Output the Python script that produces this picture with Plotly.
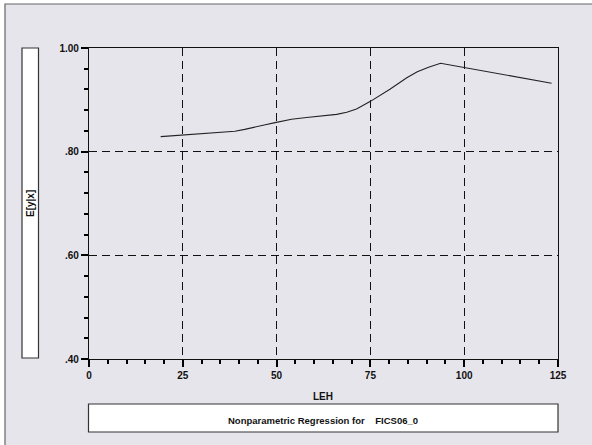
import plotly.graph_objects as go

# Nonparametric regression curve E[y|x] against LEH
leh = [19.1, 24.7, 30.0, 35.4, 38.9, 41.5, 44.2, 47.0, 49.6, 54.0, 58.0, 62.4,
       66.0, 68.7, 71.3, 74.9, 80.2, 84.7, 87.5, 90.5, 93.7, 123.3]
ey = [0.829, 0.832, 0.834, 0.8366, 0.8395, 0.843, 0.848, 0.852, 0.856, 0.8625,
      0.866, 0.8689, 0.872, 0.876, 0.8825, 0.8966, 0.9204, 0.9425, 0.954, 0.963,
      0.9705, 0.932]

y_tickvals = [0.40, 0.60, 0.80, 1.00]
y_ticktext = [".40", ".60", ".80", "1.00"]
x_tickvals = [0, 25, 50, 75, 100, 125]
x_range = [0, 125]
y_range = [0.40, 1.00]

title_text = "Nonparametric Regression for\u00a0\u00a0\u00a0\u00a0FICS06_0"

W, H = 592, 445
L, R, T, B = 89, 558, 48, 359
BG = "#E7E5EC"
FONT = "Liberation Sans, Arial, sans-serif"
INK = "#000000"


def px(x):
    return (x - L) / (R - L)


def py(y):
    return (B - y) / (B - T)


fig = go.Figure()
fig.add_trace(go.Scatter(x=leh, y=ey, mode="lines", line=dict(color="#222222", width=1.1),
                         showlegend=False, hoverinfo="skip"))
# same curve, invisible, on the overlay axes that carry the minor ticks
fig.add_trace(go.Scatter(x=leh, y=ey, xaxis="x2", yaxis="y2", mode="lines",
                         line=dict(width=0), opacity=0,
                         showlegend=False, hoverinfo="skip"))

axis_common = dict(
    showline=True, linecolor="#111111", linewidth=1.3, mirror=True,
    showgrid=True, gridcolor="#111111", gridwidth=1, griddash="8px,5px",
    zeroline=False, ticks="outside", ticklen=7, tickwidth=1.6, tickcolor=INK,
    tickfont=dict(family=FONT, size=10, color="#111111", weight="bold"),
)
minor_common = dict(
    tickmode="linear", ticks="outside", ticklen=4, tickwidth=1.6, tickcolor=INK,
    showticklabels=False, showgrid=False, showline=False, zeroline=False,
)

fig.update_layout(
    xaxis=dict(range=x_range, tickvals=x_tickvals, **axis_common),
    yaxis=dict(range=y_range, tickvals=y_tickvals, ticktext=y_ticktext, **axis_common),
    xaxis2=dict(range=x_range, overlaying="x", anchor="y", side="bottom",
                tick0=0, dtick=5, **minor_common),
    yaxis2=dict(range=y_range, overlaying="y", anchor="x", side="left",
                tick0=0.40, dtick=0.04, **minor_common),
)

shapes = [
    # outer panel
    dict(type="rect", xref="paper", yref="paper", layer="below",
         x0=px(5), x1=px(W + 20), y0=py(H + 20), y1=py(4),
         fillcolor=BG, line=dict(color="#666666", width=1.2)),
    # y-title box
    dict(type="rect", xref="paper", yref="paper",
         x0=px(22), x1=px(38.5), y0=py(358), y1=py(48),
         fillcolor="white", line=dict(color="#333333", width=1.2)),
    # bottom title box
    dict(type="rect", xref="paper", yref="paper",
         x0=px(88.5), x1=px(558), y0=py(432), y1=py(404),
         fillcolor="white", line=dict(color="#333333", width=1.2)),
]

annotations = [
    dict(text="E[y|x]", x=px(30), y=py(204), xref="paper", yref="paper",
         xanchor="center", yanchor="middle",
         showarrow=False, textangle=-90,
         font=dict(family=FONT, size=10, color="#111111", weight="bold")),
    dict(text="LEH", x=px(323), y=py(396), xref="paper", yref="paper",
         xanchor="center", yanchor="middle", showarrow=False,
         font=dict(family=FONT, size=10, color="#111111", weight="bold")),
    dict(text=title_text, x=px(323), y=py(420), xref="paper", yref="paper",
         xanchor="center", yanchor="middle", showarrow=False,
         font=dict(family=FONT, size=9.5, color="#111111", weight="bold")),
]

fig.update_layout(
    width=W, height=H,
    margin=dict(l=L, r=W - R, t=T, b=H - B),
    paper_bgcolor="white", plot_bgcolor="white",
    shapes=shapes, annotations=annotations,
    showlegend=False,
)

fig.write_html("out.html")
